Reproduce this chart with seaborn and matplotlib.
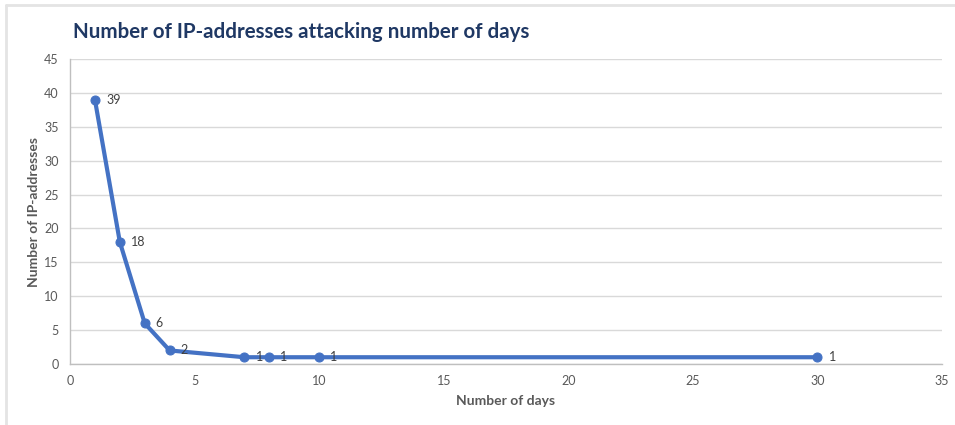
import matplotlib
matplotlib.use("Agg")
import matplotlib.pyplot as plt
from matplotlib.lines import Line2D
import seaborn as sns
import pandas as pd

# Days an IP address kept attacking, and how many addresses did so
days = [1, 2, 3, 4, 7, 8, 10, 30]
ip_counts = [39, 18, 6, 2, 1, 1, 1, 1]

x_ticks = [0, 5, 10, 15, 20, 25, 30, 35]
y_ticks = [0, 5, 10, 15, 20, 25, 30, 35, 40, 45]

title = "Number of IP-addresses attacking number of days"
x_label = "Number of days"
y_label = "Number of IP-addresses"

sns.set_theme(style="white")
plt.rcParams["font.family"] = ["Lato", "DejaVu Sans"]

df = pd.DataFrame({"days": days, "ips": ip_counts})

fig = plt.figure(figsize=(9.55, 4.25), dpi=100)
ax = fig.add_axes([0.0733, 0.1435, 0.9131, 0.7177])

line_color = "#4472C4"
grid_color = "#D9D9D9"
text_gray = "#595959"

sns.lineplot(data=df, x="days", y="ips", ax=ax, color=line_color,
             linewidth=3, marker="o", markersize=6.5,
             markeredgecolor=line_color, markerfacecolor=line_color,
             zorder=3)

ax.set_xlim(0, 35)
ax.set_ylim(0, 45)
ax.set_xticks(x_ticks)
ax.set_yticks(y_ticks)
ax.tick_params(axis="both", labelsize=9, colors=text_gray, length=0, pad=8)

ax.yaxis.grid(True, color=grid_color, linewidth=1)
ax.xaxis.grid(False)
ax.set_axisbelow(True)

for side in ["top", "right"]:
    ax.spines[side].set_visible(False)
for side in ["left", "bottom"]:
    ax.spines[side].set_color("#BFBFBF")
    ax.spines[side].set_linewidth(1)

# value labels beside each point
for d, v in zip(days, ip_counts):
    ax.annotate(str(v), (d, v), xytext=(8, 0), textcoords="offset points",
                ha="left", va="center", fontsize=9, color="#404040")

ax.set_xlabel(x_label, fontsize=10, fontweight="bold", color=text_gray, labelpad=6)
ax.set_ylabel(y_label, fontsize=10, fontweight="bold", color=text_gray, labelpad=3)

fig.text(73 / 955, 1 - 32 / 425, title, fontsize=14.8, fontweight="bold",
         color="#1F3864", ha="left", va="center")

# light frame along the top and left edges of the chart area
frame_color = "#E4E4E4"
fig.add_artist(Line2D([6 / 955, 1.0], [1 - 5 / 425, 1 - 5 / 425],
                      transform=fig.transFigure, color=frame_color, linewidth=2))
fig.add_artist(Line2D([6 / 955, 6 / 955], [0.0, 1 - 5 / 425],
                      transform=fig.transFigure, color=frame_color, linewidth=2))

fig.savefig("out.png", dpi=100)
